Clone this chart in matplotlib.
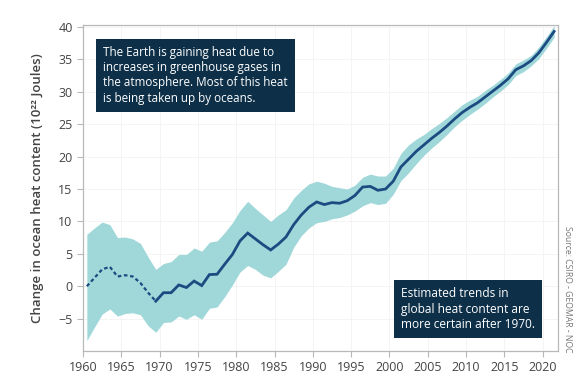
import matplotlib
matplotlib.use("Agg")
import matplotlib.pyplot as plt
import numpy as np

years = [y + 0.5 for y in range(1960, 2022)]
mean = [0.0, 1.3, 2.6, 3.0, 1.5, 1.7, 1.5, 0.5, -1.0, -2.3,
        -1.0, -1.0, 0.2, -0.2, 0.8, 0.1, 1.8, 1.85, 3.4, 4.9,
        7.0, 8.2, 7.3, 6.4, 5.6, 6.5, 7.6, 9.5, 11.0, 12.2,
        13.0, 12.6, 12.9, 12.8, 13.2, 14.0, 15.3, 15.4, 14.8, 15.0,
        16.2, 18.4, 19.6, 20.8, 21.8, 22.8, 23.7, 24.7, 25.8, 26.8,
        27.6, 28.3, 29.2, 30.1, 31.0, 32.0, 33.4, 34.0, 34.8, 36.0,
        37.6, 39.3]
upper = [8.0, 9.0, 9.9, 9.5, 7.5, 7.6, 7.3, 6.6, 4.5, 2.6,
         3.5, 3.8, 4.9, 4.9, 5.9, 5.4, 6.8, 7.0, 8.3, 9.8,
         11.7, 13.1, 12.0, 11.0, 10.0, 11.0, 11.8, 13.6, 14.8, 15.8,
         16.2, 15.9, 15.4, 15.2, 15.0, 15.6, 16.8, 17.3, 17.0, 17.0,
         18.2, 20.5, 21.8, 22.7, 23.4, 24.3, 25.1, 26.0, 27.0, 28.0,
         28.7, 29.3, 30.2, 31.0, 31.9, 32.9, 34.3, 34.9, 35.6, 36.9,
         38.5, 40.2]
lower = [-8.4, -6.3, -4.3, -3.5, -4.6, -4.2, -4.1, -4.4, -6.1, -7.1,
         -5.6, -5.5, -4.6, -5.1, -4.4, -5.1, -3.4, -3.2, -1.6, 0.2,
         2.2, 3.2, 2.6, 1.7, 1.3, 2.3, 3.4, 6.0, 7.8, 9.0,
         9.8, 10.0, 10.4, 10.6, 11.0, 11.6, 12.4, 12.9, 12.6, 12.8,
         14.2, 16.3, 17.5, 18.9, 20.2, 21.3, 22.3, 23.4, 24.6, 25.6,
         26.5, 27.3, 28.2, 29.2, 30.1, 31.1, 32.5, 33.1, 34.0, 35.1,
         36.7, 38.4]
xticks = list(range(1960, 2021, 5))
yticks = list(range(-5, 41, 5))
split_year = 1969.5

plt.rcParams['font.family'] = ['Open Sans', 'DejaVu Sans']

fig = plt.figure(figsize=(5.83, 3.82), dpi=100)
ax = fig.add_axes([0.1424, 0.081, 0.8146, 0.8536])

yrs = np.array(years)
m = np.array(mean)
band_c = '#a0d8da'
line_c = '#1b4b80'
ax.fill_between(yrs, lower, upper, color=band_c, lw=0, zorder=2)
pre = yrs <= split_year
post = yrs >= split_year
ax.plot(yrs[pre], m[pre], color=line_c, lw=1.6, ls=(0, (1.6, 1.2)), zorder=3)
ax.plot(yrs[post], m[post], color=line_c, lw=2.0, zorder=3, solid_joinstyle='miter')

ax.set_xlim(1960, 2022)
ax.set_ylim(-10, 40.3)
ax.set_xticks(xticks)
ax.set_yticks(yticks)
ax.grid(True, color='#f2f2f2', lw=0.6, zorder=0)
for s in ax.spines.values():
    s.set_color('#b8b8b8')
    s.set_linewidth(0.9)
ax.tick_params(colors='#b8b8b8', labelcolor='#444444', labelsize=9, length=4, width=0.8)
ax.set_ylabel('Change in ocean heat content (10²² Joules)', fontsize=9.5,
              color='#444444', fontweight='semibold', labelpad=10)

box = dict(boxstyle='square,pad=0.6', fc='#0d2f48', ec='none')
ax.text(0.042, 0.937, 'The Earth is gaining heat due to\nincreases in greenhouse gases in\nthe atmosphere. Most of this heat\nis being taken up by oceans.',
        transform=ax.transAxes, fontsize=8.4, color='white', va='top', ha='left',
        linespacing=1.24, bbox=box, zorder=5)
ax.text(0.67, 0.195, 'Estimated trends in\nglobal heat content are\nmore certain after 1970.',
        transform=ax.transAxes, fontsize=8.6, color='white', va='top', ha='left',
        linespacing=1.22, bbox=box, zorder=5)

fig.text(0.9726, 0.243, 'Source: CSIRO - GEOMAR - NOC', rotation=270, fontsize=6.2,
         color='#777777', ha='center', va='center')

fig.savefig('out.png', dpi=100)
